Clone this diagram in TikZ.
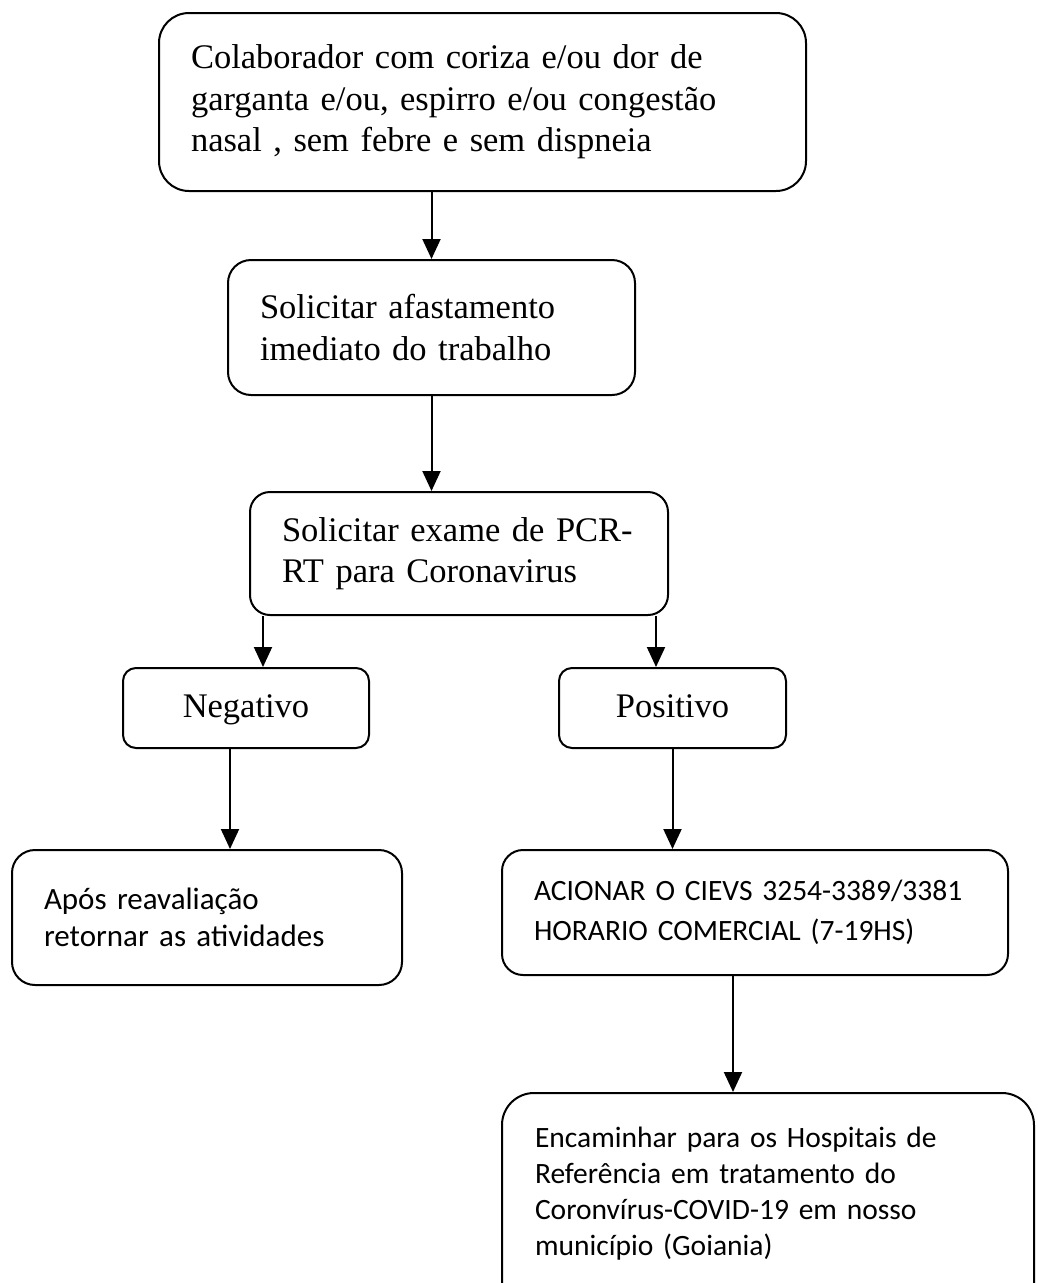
\documentclass[tikz,border=0pt]{standalone}
\usepackage{fontspec}
\setmainfont{Liberation Serif}
\newfontfamily\calibrifont{Carlito}
\usetikzlibrary{arrows.meta}

\begin{document}
\begin{tikzpicture}[x=1pt,y=-1pt]
        \tikzstyle{every node}+=[inner ysep=0pt,inner xsep=32pt]
        \tikzstyle{caixa}=[draw=black,line width=2pt,align=left]
        \tikzstyle{serifa}=[font=\fontsize{34.5}{41.5}\selectfont]
        \tikzstyle{seta}=[black,line width=2pt,-{Triangle[length=20pt,width=18pt]}]
        \useasboundingbox (0,0) rectangle (1038,1283);
        \clip (0,0) rectangle (1038,1283);
        \node [caixa,serifa,rounded corners=30pt,minimum width=647pt,minimum height=178pt,text width=583pt] (colab) at (482.5,102) {Colaborador com coriza e/ou dor de\\garganta e/ou, espirro e/ou congestão\\nasal , sem febre e sem dispneia};
        \node [caixa,serifa,rounded corners=23pt,minimum width=407pt,minimum height=135pt,text width=343pt] (afast) at (431.5,327.5) {Solicitar afastamento\\imediato do trabalho};
        \node [caixa,serifa,rounded corners=20pt,minimum width=418pt,minimum height=123pt,text width=354pt] (pcr) at (459,553.5) {Solicitar exame de PCR-\\RT para Coronavirus};
        \node [caixa,serifa,rounded corners=13pt,minimum width=246pt,minimum height=80pt,align=center,text height=25pt,text depth=7pt] (neg) at (246,708) {Negativo};
        \node [caixa,serifa,rounded corners=13pt,minimum width=227pt,minimum height=80pt,align=center,text height=25pt,text depth=7pt] (pos) at (672.5,708) {Positivo};
        \node [caixa,rounded corners=23pt,minimum width=390pt,minimum height=135pt,text width=326pt,font=\calibrifont\fontsize{31}{37}\selectfont] (apos) at (207,917.5) {Após reavaliação\\retornar as atividades};
        \node [caixa,rounded corners=21pt,minimum width=506pt,minimum height=125pt,text width=442pt,font=\calibrifont\fontsize{29.5}{40}\selectfont] (cievs) at (755,912.5) {ACIONAR O CIEVS 3254-3389/3381\\HORARIO COMERCIAL (7-19HS)};
        \node [caixa,rounded corners=32pt,minimum width=532pt,minimum height=232pt,text width=466pt,inner xsep=33pt,font=\calibrifont\fontsize{29.5}{36}\selectfont] (enc) at (768,1209) {Encaminhar para os Hospitais de\\Referência em tratamento do\\Coronvírus-COVID-19 em nosso\\município (Goiania)\\\mbox{}};
        \coordinate (negIn) at ([xshift=17pt]neg.north);
        \coordinate (posIn) at ([xshift=-16.5pt]pos.north);
        \coordinate (negOut) at ([xshift=-16pt]neg.south);
        \coordinate (cievsOut) at ([xshift=-22pt]cievs.south);
        \draw [seta] (colab.south -| afast.north) -- (afast.north);
        \draw [seta] (afast.south) -- (afast.south |- pcr.north);
        \draw [seta] (pcr.south -| negIn) -- (negIn);
        \draw [seta] (pcr.south -| posIn) -- (posIn);
        \draw [seta] (negOut) -- (negOut |- apos.north);
        \draw [seta] (pos.south) -- (pos.south |- cievs.north);
        \draw [seta] (cievsOut) -- (cievsOut |- enc.north);
\end{tikzpicture}
\end{document}
